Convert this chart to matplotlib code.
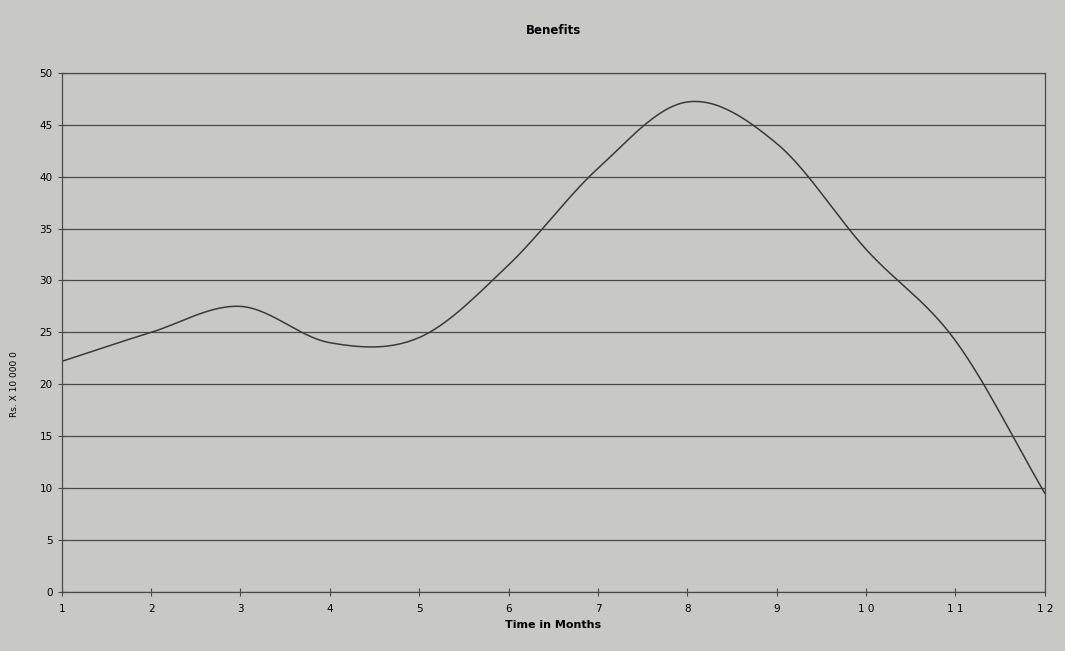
import numpy as np
import matplotlib.pyplot as plt

months = [1, 2, 3, 4, 5, 6, 7, 8, 9, 10, 11, 12]
benefits = [22.2, 25.0, 27.5, 24.0, 24.5, 31.5, 40.8, 47.2, 43.2, 33.0, 24.2, 9.5]
xtick_labels = ['1', '2', '3', '4', '5', '6', '7', '8', '9', '1 0', '1 1', '1 2']


def smooth(x, y, n=30):
    # catmull-rom style smoothing, like the "smoothed line" option
    x = np.asarray(x, float)
    y = np.asarray(y, float)
    px = np.concatenate([[2 * x[0] - x[1]], x, [2 * x[-1] - x[-2]]])
    py = np.concatenate([[2 * y[0] - y[1]], y, [2 * y[-1] - y[-2]]])
    xs, ys = [], []
    t = np.linspace(0, 1, n)
    for i in range(1, len(px) - 2):
        for p, out in ((px, xs), (py, ys)):
            p0, p1, p2, p3 = p[i - 1], p[i], p[i + 1], p[i + 2]
            out.extend(0.5 * ((2 * p1) + (-p0 + p2) * t
                              + (2 * p0 - 5 * p1 + 4 * p2 - p3) * t ** 2
                              + (-p0 + 3 * p1 - 3 * p2 + p3) * t ** 3))
    return xs, ys


bg = '#c8c8c4'
fig = plt.figure(figsize=(10.65, 6.51), dpi=100, facecolor=bg)
ax = fig.add_axes([0.058, 0.091, 0.923, 0.797], facecolor=bg)

sx, sy = smooth(months, benefits)
ax.plot(sx, sy, color='#3a3a3a', linewidth=1.1)

ax.set_xlim(1, 12)
ax.set_ylim(0, 50)
ax.set_yticks(range(0, 51, 5))
ax.set_xticks(months)
ax.set_xticklabels(xtick_labels)
ax.yaxis.grid(True, color='#4a4a4a', linewidth=0.9)
for s in ax.spines.values():
    s.set_color('#4a4a4a')
    s.set_linewidth(0.9)
ax.tick_params(axis='x', direction='inout', length=6, labelsize=7.5, color='#4a4a4a', pad=6)
ax.tick_params(axis='y', direction='inout', length=6, labelsize=7.5, color='#4a4a4a')

ax.set_title('Benefits', fontsize=8.5, fontweight='bold', pad=28)
ax.set_xlabel('Time in Months', fontsize=8, fontweight='bold', labelpad=4)
fig.text(0.014, 0.41, 'Rs. X 10 000 0', fontsize=6.5, rotation=90,
         ha='center', va='center')

plt.savefig('out.png', dpi=100, facecolor=bg)
